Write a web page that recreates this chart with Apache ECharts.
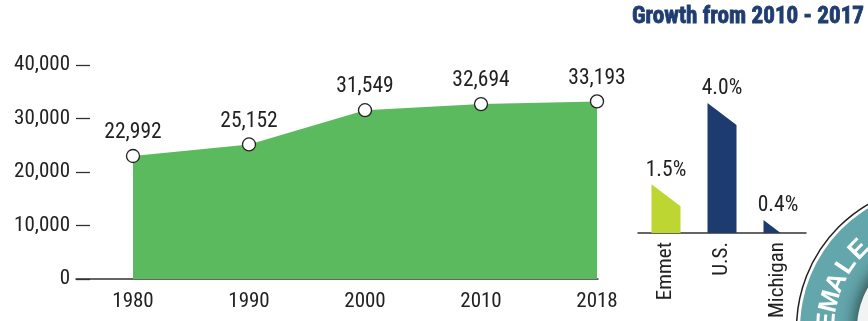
<!DOCTYPE html>
<html>
<head>
<meta charset="utf-8">
<script src="https://cdn.jsdelivr.net/npm/echarts@6/dist/echarts.min.js"></script>
<style>
  html, body { margin: 0; padding: 0; background: #ffffff; }
  #chart { width: 868px; height: 321px; }
</style>
</head>
<body>
<div id="chart"></div>
<script>
// Population by census year
const years = ['1980', '1990', '2000', '2010', '2018'];
const population = [22992, 25152, 31549, 32694, 33193];
const yTicks = [0, 10000, 20000, 30000, 40000];

// Growth from 2010 - 2017
const places = ['Emmet', 'U.S.', 'Michigan'];
const growth = [1.5, 4.0, 0.4];
const growthMax = 4.0;

const title = 'Growth from 2010 - 2017';
const badgeWord = 'FEMALE';

const INK = '#222222';
const GREEN = '#5cba5e';
const LIME = '#bdd631';
const NAVY = '#1d3b6e';
const TEAL = '#63a6ab';
const growthColors = [LIME, NAVY, NAVY];

const fmt = v => Number(v).toLocaleString('en-US');

// Prefer a narrow face; otherwise size a regular sans so numbers keep their width.
const measureCtx = document.createElement('canvas').getContext('2d');
function hasFont(name) {
  const probe = '40,000 Emmet Michigan';
  measureCtx.font = '40px monospace';
  const a = measureCtx.measureText(probe).width;
  measureCtx.font = '40px "' + name + '", monospace';
  return Math.abs(measureCtx.measureText(probe).width - a) > 0.5;
}
const narrow = ['Liberation Sans Narrow', 'Roboto Condensed', 'Arial Narrow'].find(hasFont);
const FAMILY = narrow || 'Liberation Sans';
measureCtx.font = '100px "' + FAMILY + '"';
const per100 = measureCtx.measureText('22,992').width;
const FONT_SIZE = Math.max(16, Math.min(21, Math.round(55 * 100 / per100 * 2) / 2));
const FONT = '"' + FAMILY + '", Arial, sans-serif';

const chart = echarts.init(document.getElementById('chart'), null, { renderer: 'canvas' });

// Slanted-top column: left edge at full value, top edge falls to the right,
// cut off where it meets the baseline.
function slantBar(params, api) {
  const i = params.dataIndex;
  const base = api.coord([i, 0]);
  const top = api.coord([i, api.value(1)]);
  const w = 29, drop = 22;
  const x0 = base[0] - w / 2, x1 = base[0] + w / 2;
  const yb = base[1], yt = top[1];
  let pts;
  if (yt + drop <= yb) {
    pts = [[x0, yb], [x0, yt], [x1, yt + drop], [x1, yb]];
  } else {
    const xe = x0 + w * (yb - yt) / drop;
    pts = [[x0, yb], [x0, yt], [xe, yb]];
  }
  return {
    type: 'group',
    children: [
      { type: 'polygon', shape: { points: pts }, style: { fill: growthColors[i] } },
      {
        type: 'text',
        x: base[0], y: yt - 3,
        style: {
          text: api.value(1).toFixed(1) + '%',
          fill: INK, font: (FONT_SIZE + 1) + 'px ' + FONT,
          textAlign: 'center', textVerticalAlign: 'bottom'
        }
      }
    ]
  };
}

// Heading in a heavy condensed face, fitted to its measured width
const TITLE_FONT = 'bold 24px ' + FONT;
measureCtx.font = TITLE_FONT;
const titleScale = 232 / measureCtx.measureText(title).width;

// Round emblem in the lower-right corner
const badgeCx = 941, badgeCy = 329;
const badgeChildren = [
  { type: 'circle', shape: { cx: badgeCx, cy: badgeCy, r: 144.5 },
    style: { fill: '#ffffff', stroke: INK, lineWidth: 1.5 } },
  { type: 'circle', shape: { cx: badgeCx, cy: badgeCy, r: 141 },
    style: { fill: TEAL } },
  { type: 'circle', shape: { cx: badgeCx, cy: badgeCy, r: 84 },
    style: { fill: '#f3f3f3', shadowBlur: 14, shadowColor: 'rgba(0,0,0,0.5)', shadowOffsetX: -3, shadowOffsetY: -3 } }
];
const letterAngles = [-186, -176, -166, -156, -146, -136];
badgeWord.split('').forEach((ch, k) => {
  const th = letterAngles[k] * Math.PI / 180;
  const r = 114;
  badgeChildren.push({
    type: 'text',
    x: badgeCx + r * Math.cos(th),
    y: badgeCy + r * Math.sin(th),
    rotation: (-90 - letterAngles[k]) * Math.PI / 180,
    style: {
      text: ch, fill: '#ffffff', font: 'bold 26px "Liberation Sans", Arial, sans-serif',
      textAlign: 'center', textVerticalAlign: 'middle'
    }
  });
});

const option = {
  animation: false,
  backgroundColor: '#ffffff',
  grid: [
    { left: 133, right: 271, top: 65, bottom: 42 },
    { left: 76, right: 270, top: 65, bottom: 42 },
    { left: 638, right: 62, top: 103, bottom: 85 }
  ],
  xAxis: [
    {
      gridIndex: 0, type: 'category', data: years, boundaryGap: false,
      axisLine: { show: false }, axisTick: { show: false },
      axisLabel: { color: INK, fontFamily: FONT, fontSize: FONT_SIZE + 0.5, margin: 12 }
    },
    {
      gridIndex: 1, type: 'value', min: 0, max: 1,
      axisLine: { show: true, lineStyle: { color: '#333333', width: 1.5 } },
      axisTick: { show: false }, axisLabel: { show: false }, splitLine: { show: false }
    },
    {
      gridIndex: 2, type: 'category', data: places,
      axisLine: { show: true, lineStyle: { color: '#333333', width: 1.5 } },
      axisTick: { show: false },
      axisLabel: { color: INK, fontFamily: FONT, fontSize: FONT_SIZE + 0.5, rotate: 90, margin: 9 }
    }
  ],
  yAxis: [
    {
      gridIndex: 0, type: 'value',
      min: yTicks[0], max: yTicks[yTicks.length - 1], interval: yTicks[1] - yTicks[0],
      offset: 43,
      axisLine: { show: false },
      axisTick: { show: true, length: 14, lineStyle: { color: '#333333', width: 1.3 } },
      splitLine: { show: false },
      axisLabel: { color: INK, fontFamily: FONT, fontSize: FONT_SIZE + 0.5, margin: 20, formatter: fmt }
    },
    { gridIndex: 1, type: 'value', show: false },
    { gridIndex: 2, type: 'value', min: 0, max: growthMax, show: false }
  ],
  series: [
    {
      type: 'line', xAxisIndex: 0, yAxisIndex: 0,
      data: population,
      lineStyle: { width: 0 },
      areaStyle: { color: GREEN, opacity: 1 },
      symbol: 'circle', symbolSize: 13,
      itemStyle: { color: '#ffffff', borderColor: INK, borderWidth: 1.3 },
      label: {
        show: true, position: 'top', distance: 5,
        color: INK, fontFamily: FONT, fontSize: FONT_SIZE + 1, formatter: p => fmt(p.value)
      },
      z: 3
    },
    {
      type: 'custom', xAxisIndex: 2, yAxisIndex: 2,
      data: growth.map((v, i) => [i, v]),
      renderItem: slantBar
    }
  ],
  graphic: [
    {
      type: 'group', x: 864, y: 17, scaleX: titleScale,
      children: [{
        type: 'text', x: 0, y: 0,
        style: {
          text: title, fill: '#1f3d70', font: TITLE_FONT,
          stroke: '#1f3d70', lineWidth: 0.8,
          textAlign: 'right', textVerticalAlign: 'middle'
        }
      }]
    },
    { type: 'group', children: badgeChildren, z: 1 }
  ]
};

chart.setOption(option);
</script>
</body>
</html>
